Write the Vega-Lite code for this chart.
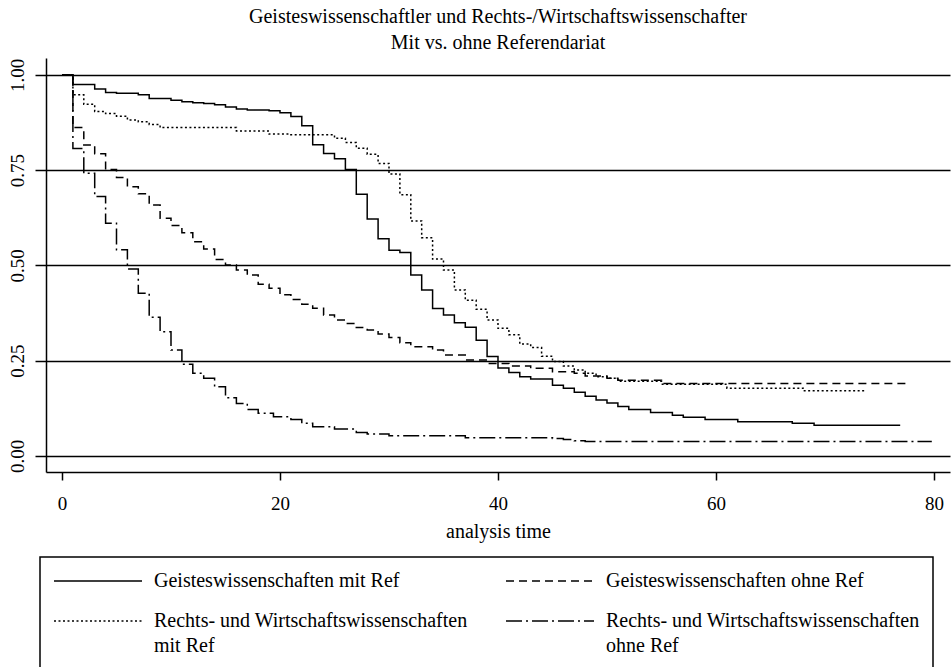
{
  "$schema": "https://vega.github.io/schema/vega-lite/v6.json",
  "width": 904,
  "height": 414,
  "autosize": {"type": "none"},
  "padding": {"left": 46, "top": 58, "right": 2, "bottom": 195},
  "background": "white",
  "title": {
    "text": ["Geisteswissenschaftler und Rechts-/Wirtschaftswissenschafter", "Mit vs. ohne Referendariat"],
    "font": "'Liberation Serif', 'Times New Roman', Times, 'DejaVu Serif', serif",
    "fontSize": 20,
    "fontWeight": "normal",
    "lineHeight": 26,
    "anchor": "middle",
    "frame": "group",
    "offset": 5,
    "color": "black"
  },
  "config": {
    "view": {"stroke": null},
    "font": "'Liberation Serif', 'Times New Roman', Times, 'DejaVu Serif', serif",
    "legend": {
      "orient": "none",
      "legendX": -6,
      "legendY": 499,
      "columns": 2,
      "direction": "horizontal",
      "gridAlign": "each",
      "padding": 13,
      "strokeColor": "black",
      "symbolType": "M-1,0H7.8",
      "symbolSize": 400,
      "symbolStrokeWidth": 1.5,
      "symbolStrokeColor": "black",
      "symbolFillColor": "transparent",
      "labelFont": "'Liberation Serif', 'Times New Roman', Times, 'DejaVu Serif', serif",
      "labelFontSize": 20,
      "labelColor": "black",
      "labelOffset": 79,
      "labelLimit": 500,
      "columnPadding": 35,
      "rowPadding": 19
    }
  },
  "data": {
    "values": [
      {"g": "Geisteswissenschaften mit Ref", "t": 0, "s": 1},
      {"g": "Geisteswissenschaften mit Ref", "t": 1, "s": 0.975},
      {"g": "Geisteswissenschaften mit Ref", "t": 3, "s": 0.963},
      {"g": "Geisteswissenschaften mit Ref", "t": 4, "s": 0.954},
      {"g": "Geisteswissenschaften mit Ref", "t": 5, "s": 0.952},
      {"g": "Geisteswissenschaften mit Ref", "t": 7, "s": 0.948},
      {"g": "Geisteswissenschaften mit Ref", "t": 8, "s": 0.938},
      {"g": "Geisteswissenschaften mit Ref", "t": 10, "s": 0.934},
      {"g": "Geisteswissenschaften mit Ref", "t": 11, "s": 0.930},
      {"g": "Geisteswissenschaften mit Ref", "t": 12, "s": 0.927},
      {"g": "Geisteswissenschaften mit Ref", "t": 13, "s": 0.925},
      {"g": "Geisteswissenschaften mit Ref", "t": 14, "s": 0.922},
      {"g": "Geisteswissenschaften mit Ref", "t": 15, "s": 0.916},
      {"g": "Geisteswissenschaften mit Ref", "t": 16, "s": 0.911},
      {"g": "Geisteswissenschaften mit Ref", "t": 17, "s": 0.908},
      {"g": "Geisteswissenschaften mit Ref", "t": 19, "s": 0.906},
      {"g": "Geisteswissenschaften mit Ref", "t": 20, "s": 0.901},
      {"g": "Geisteswissenschaften mit Ref", "t": 21, "s": 0.891},
      {"g": "Geisteswissenschaften mit Ref", "t": 22, "s": 0.867},
      {"g": "Geisteswissenschaften mit Ref", "t": 23, "s": 0.817},
      {"g": "Geisteswissenschaften mit Ref", "t": 24, "s": 0.794},
      {"g": "Geisteswissenschaften mit Ref", "t": 25, "s": 0.780},
      {"g": "Geisteswissenschaften mit Ref", "t": 26, "s": 0.752},
      {"g": "Geisteswissenschaften mit Ref", "t": 27, "s": 0.687},
      {"g": "Geisteswissenschaften mit Ref", "t": 28, "s": 0.622},
      {"g": "Geisteswissenschaften mit Ref", "t": 29, "s": 0.570},
      {"g": "Geisteswissenschaften mit Ref", "t": 30, "s": 0.540},
      {"g": "Geisteswissenschaften mit Ref", "t": 31, "s": 0.534},
      {"g": "Geisteswissenschaften mit Ref", "t": 32, "s": 0.475},
      {"g": "Geisteswissenschaften mit Ref", "t": 33, "s": 0.436},
      {"g": "Geisteswissenschaften mit Ref", "t": 34, "s": 0.387},
      {"g": "Geisteswissenschaften mit Ref", "t": 35, "s": 0.370},
      {"g": "Geisteswissenschaften mit Ref", "t": 36, "s": 0.350},
      {"g": "Geisteswissenschaften mit Ref", "t": 37, "s": 0.338},
      {"g": "Geisteswissenschaften mit Ref", "t": 38, "s": 0.304},
      {"g": "Geisteswissenschaften mit Ref", "t": 39, "s": 0.261},
      {"g": "Geisteswissenschaften mit Ref", "t": 40, "s": 0.231},
      {"g": "Geisteswissenschaften mit Ref", "t": 41, "s": 0.219},
      {"g": "Geisteswissenschaften mit Ref", "t": 42, "s": 0.208},
      {"g": "Geisteswissenschaften mit Ref", "t": 43, "s": 0.202},
      {"g": "Geisteswissenschaften mit Ref", "t": 45, "s": 0.186},
      {"g": "Geisteswissenschaften mit Ref", "t": 46, "s": 0.178},
      {"g": "Geisteswissenschaften mit Ref", "t": 47, "s": 0.167},
      {"g": "Geisteswissenschaften mit Ref", "t": 48, "s": 0.157},
      {"g": "Geisteswissenschaften mit Ref", "t": 49, "s": 0.147},
      {"g": "Geisteswissenschaften mit Ref", "t": 50, "s": 0.139},
      {"g": "Geisteswissenschaften mit Ref", "t": 51, "s": 0.130},
      {"g": "Geisteswissenschaften mit Ref", "t": 52, "s": 0.122},
      {"g": "Geisteswissenschaften mit Ref", "t": 54, "s": 0.114},
      {"g": "Geisteswissenschaften mit Ref", "t": 56, "s": 0.107},
      {"g": "Geisteswissenschaften mit Ref", "t": 57, "s": 0.102},
      {"g": "Geisteswissenschaften mit Ref", "t": 59, "s": 0.096},
      {"g": "Geisteswissenschaften mit Ref", "t": 62, "s": 0.090},
      {"g": "Geisteswissenschaften mit Ref", "t": 67, "s": 0.086},
      {"g": "Geisteswissenschaften mit Ref", "t": 69, "s": 0.081},
      {"g": "Geisteswissenschaften mit Ref", "t": 76.9, "s": 0.081},

      {"g": "Geisteswissenschaften ohne Ref", "t": 0, "s": 1},
      {"g": "Geisteswissenschaften ohne Ref", "t": 1, "s": 0.862},
      {"g": "Geisteswissenschaften ohne Ref", "t": 2, "s": 0.816},
      {"g": "Geisteswissenschaften ohne Ref", "t": 3, "s": 0.793},
      {"g": "Geisteswissenschaften ohne Ref", "t": 4, "s": 0.752},
      {"g": "Geisteswissenschaften ohne Ref", "t": 5, "s": 0.731},
      {"g": "Geisteswissenschaften ohne Ref", "t": 6, "s": 0.707},
      {"g": "Geisteswissenschaften ohne Ref", "t": 7, "s": 0.688},
      {"g": "Geisteswissenschaften ohne Ref", "t": 8, "s": 0.659},
      {"g": "Geisteswissenschaften ohne Ref", "t": 9, "s": 0.624},
      {"g": "Geisteswissenschaften ohne Ref", "t": 10, "s": 0.605},
      {"g": "Geisteswissenschaften ohne Ref", "t": 11, "s": 0.586},
      {"g": "Geisteswissenschaften ohne Ref", "t": 12, "s": 0.562},
      {"g": "Geisteswissenschaften ohne Ref", "t": 13, "s": 0.543},
      {"g": "Geisteswissenschaften ohne Ref", "t": 14, "s": 0.516},
      {"g": "Geisteswissenschaften ohne Ref", "t": 15, "s": 0.501},
      {"g": "Geisteswissenschaften ohne Ref", "t": 16, "s": 0.488},
      {"g": "Geisteswissenschaften ohne Ref", "t": 17, "s": 0.475},
      {"g": "Geisteswissenschaften ohne Ref", "t": 18, "s": 0.451},
      {"g": "Geisteswissenschaften ohne Ref", "t": 19, "s": 0.440},
      {"g": "Geisteswissenschaften ohne Ref", "t": 20, "s": 0.423},
      {"g": "Geisteswissenschaften ohne Ref", "t": 21, "s": 0.411},
      {"g": "Geisteswissenschaften ohne Ref", "t": 22, "s": 0.398},
      {"g": "Geisteswissenschaften ohne Ref", "t": 23, "s": 0.388},
      {"g": "Geisteswissenschaften ohne Ref", "t": 24, "s": 0.370},
      {"g": "Geisteswissenschaften ohne Ref", "t": 25, "s": 0.357},
      {"g": "Geisteswissenschaften ohne Ref", "t": 26, "s": 0.348},
      {"g": "Geisteswissenschaften ohne Ref", "t": 27, "s": 0.337},
      {"g": "Geisteswissenschaften ohne Ref", "t": 28, "s": 0.331},
      {"g": "Geisteswissenschaften ohne Ref", "t": 29, "s": 0.320},
      {"g": "Geisteswissenschaften ohne Ref", "t": 30, "s": 0.311},
      {"g": "Geisteswissenschaften ohne Ref", "t": 31, "s": 0.297},
      {"g": "Geisteswissenschaften ohne Ref", "t": 32, "s": 0.287},
      {"g": "Geisteswissenschaften ohne Ref", "t": 34, "s": 0.278},
      {"g": "Geisteswissenschaften ohne Ref", "t": 35, "s": 0.265},
      {"g": "Geisteswissenschaften ohne Ref", "t": 37, "s": 0.252},
      {"g": "Geisteswissenschaften ohne Ref", "t": 39, "s": 0.243},
      {"g": "Geisteswissenschaften ohne Ref", "t": 41, "s": 0.236},
      {"g": "Geisteswissenschaften ohne Ref", "t": 43, "s": 0.230},
      {"g": "Geisteswissenschaften ohne Ref", "t": 45, "s": 0.221},
      {"g": "Geisteswissenschaften ohne Ref", "t": 47, "s": 0.217},
      {"g": "Geisteswissenschaften ohne Ref", "t": 48, "s": 0.210},
      {"g": "Geisteswissenschaften ohne Ref", "t": 50, "s": 0.204},
      {"g": "Geisteswissenschaften ohne Ref", "t": 51, "s": 0.199},
      {"g": "Geisteswissenschaften ohne Ref", "t": 55, "s": 0.190},
      {"g": "Geisteswissenschaften ohne Ref", "t": 77.6, "s": 0.190},

      {"g": "Rechts- und Wirtschaftswissenschaften mit Ref", "t": 0, "s": 1},
      {"g": "Rechts- und Wirtschaftswissenschaften mit Ref", "t": 1, "s": 0.948},
      {"g": "Rechts- und Wirtschaftswissenschaften mit Ref", "t": 2, "s": 0.923},
      {"g": "Rechts- und Wirtschaftswissenschaften mit Ref", "t": 3, "s": 0.904},
      {"g": "Rechts- und Wirtschaftswissenschaften mit Ref", "t": 4, "s": 0.899},
      {"g": "Rechts- und Wirtschaftswissenschaften mit Ref", "t": 5, "s": 0.892},
      {"g": "Rechts- und Wirtschaftswissenschaften mit Ref", "t": 6, "s": 0.882},
      {"g": "Rechts- und Wirtschaftswissenschaften mit Ref", "t": 7, "s": 0.877},
      {"g": "Rechts- und Wirtschaftswissenschaften mit Ref", "t": 8, "s": 0.870},
      {"g": "Rechts- und Wirtschaftswissenschaften mit Ref", "t": 9, "s": 0.862},
      {"g": "Rechts- und Wirtschaftswissenschaften mit Ref", "t": 16, "s": 0.853},
      {"g": "Rechts- und Wirtschaftswissenschaften mit Ref", "t": 19, "s": 0.845},
      {"g": "Rechts- und Wirtschaftswissenschaften mit Ref", "t": 21, "s": 0.843},
      {"g": "Rechts- und Wirtschaftswissenschaften mit Ref", "t": 25, "s": 0.834},
      {"g": "Rechts- und Wirtschaftswissenschaften mit Ref", "t": 26, "s": 0.823},
      {"g": "Rechts- und Wirtschaftswissenschaften mit Ref", "t": 27, "s": 0.808},
      {"g": "Rechts- und Wirtschaftswissenschaften mit Ref", "t": 28, "s": 0.792},
      {"g": "Rechts- und Wirtschaftswissenschaften mit Ref", "t": 29, "s": 0.768},
      {"g": "Rechts- und Wirtschaftswissenschaften mit Ref", "t": 30, "s": 0.740},
      {"g": "Rechts- und Wirtschaftswissenschaften mit Ref", "t": 31, "s": 0.686},
      {"g": "Rechts- und Wirtschaftswissenschaften mit Ref", "t": 32, "s": 0.617},
      {"g": "Rechts- und Wirtschaftswissenschaften mit Ref", "t": 33, "s": 0.573},
      {"g": "Rechts- und Wirtschaftswissenschaften mit Ref", "t": 34, "s": 0.517},
      {"g": "Rechts- und Wirtschaftswissenschaften mit Ref", "t": 35, "s": 0.488},
      {"g": "Rechts- und Wirtschaftswissenschaften mit Ref", "t": 36, "s": 0.436},
      {"g": "Rechts- und Wirtschaftswissenschaften mit Ref", "t": 37, "s": 0.409},
      {"g": "Rechts- und Wirtschaftswissenschaften mit Ref", "t": 38, "s": 0.385},
      {"g": "Rechts- und Wirtschaftswissenschaften mit Ref", "t": 39, "s": 0.357},
      {"g": "Rechts- und Wirtschaftswissenschaften mit Ref", "t": 40, "s": 0.335},
      {"g": "Rechts- und Wirtschaftswissenschaften mit Ref", "t": 41, "s": 0.318},
      {"g": "Rechts- und Wirtschaftswissenschaften mit Ref", "t": 42, "s": 0.294},
      {"g": "Rechts- und Wirtschaftswissenschaften mit Ref", "t": 43, "s": 0.285},
      {"g": "Rechts- und Wirtschaftswissenschaften mit Ref", "t": 44, "s": 0.262},
      {"g": "Rechts- und Wirtschaftswissenschaften mit Ref", "t": 45, "s": 0.248},
      {"g": "Rechts- und Wirtschaftswissenschaften mit Ref", "t": 46, "s": 0.236},
      {"g": "Rechts- und Wirtschaftswissenschaften mit Ref", "t": 47, "s": 0.226},
      {"g": "Rechts- und Wirtschaftswissenschaften mit Ref", "t": 48, "s": 0.217},
      {"g": "Rechts- und Wirtschaftswissenschaften mit Ref", "t": 49, "s": 0.208},
      {"g": "Rechts- und Wirtschaftswissenschaften mit Ref", "t": 50, "s": 0.204},
      {"g": "Rechts- und Wirtschaftswissenschaften mit Ref", "t": 51, "s": 0.196},
      {"g": "Rechts- und Wirtschaftswissenschaften mit Ref", "t": 55, "s": 0.188},
      {"g": "Rechts- und Wirtschaftswissenschaften mit Ref", "t": 61, "s": 0.178},
      {"g": "Rechts- und Wirtschaftswissenschaften mit Ref", "t": 68, "s": 0.171},
      {"g": "Rechts- und Wirtschaftswissenschaften mit Ref", "t": 73.7, "s": 0.171},

      {"g": "Rechts- und Wirtschaftswissenschaften ohne Ref", "t": 0, "s": 1},
      {"g": "Rechts- und Wirtschaftswissenschaften ohne Ref", "t": 1, "s": 0.807},
      {"g": "Rechts- und Wirtschaftswissenschaften ohne Ref", "t": 2, "s": 0.742},
      {"g": "Rechts- und Wirtschaftswissenschaften ohne Ref", "t": 3, "s": 0.681},
      {"g": "Rechts- und Wirtschaftswissenschaften ohne Ref", "t": 4, "s": 0.611},
      {"g": "Rechts- und Wirtschaftswissenschaften ohne Ref", "t": 5, "s": 0.541},
      {"g": "Rechts- und Wirtschaftswissenschaften ohne Ref", "t": 6, "s": 0.491},
      {"g": "Rechts- und Wirtschaftswissenschaften ohne Ref", "t": 7, "s": 0.427},
      {"g": "Rechts- und Wirtschaftswissenschaften ohne Ref", "t": 8, "s": 0.364},
      {"g": "Rechts- und Wirtschaftswissenschaften ohne Ref", "t": 9, "s": 0.326},
      {"g": "Rechts- und Wirtschaftswissenschaften ohne Ref", "t": 10, "s": 0.278},
      {"g": "Rechts- und Wirtschaftswissenschaften ohne Ref", "t": 11, "s": 0.241},
      {"g": "Rechts- und Wirtschaftswissenschaften ohne Ref", "t": 12, "s": 0.217},
      {"g": "Rechts- und Wirtschaftswissenschaften ohne Ref", "t": 13, "s": 0.204},
      {"g": "Rechts- und Wirtschaftswissenschaften ohne Ref", "t": 14, "s": 0.182},
      {"g": "Rechts- und Wirtschaftswissenschaften ohne Ref", "t": 15, "s": 0.153},
      {"g": "Rechts- und Wirtschaftswissenschaften ohne Ref", "t": 16, "s": 0.138},
      {"g": "Rechts- und Wirtschaftswissenschaften ohne Ref", "t": 17, "s": 0.122},
      {"g": "Rechts- und Wirtschaftswissenschaften ohne Ref", "t": 18, "s": 0.112},
      {"g": "Rechts- und Wirtschaftswissenschaften ohne Ref", "t": 19.4, "s": 0.103},
      {"g": "Rechts- und Wirtschaftswissenschaften ohne Ref", "t": 21, "s": 0.096},
      {"g": "Rechts- und Wirtschaftswissenschaften ohne Ref", "t": 22, "s": 0.086},
      {"g": "Rechts- und Wirtschaftswissenschaften ohne Ref", "t": 23, "s": 0.077},
      {"g": "Rechts- und Wirtschaftswissenschaften ohne Ref", "t": 25, "s": 0.071},
      {"g": "Rechts- und Wirtschaftswissenschaften ohne Ref", "t": 27, "s": 0.062},
      {"g": "Rechts- und Wirtschaftswissenschaften ohne Ref", "t": 28, "s": 0.058},
      {"g": "Rechts- und Wirtschaftswissenschaften ohne Ref", "t": 30, "s": 0.053},
      {"g": "Rechts- und Wirtschaftswissenschaften ohne Ref", "t": 37, "s": 0.048},
      {"g": "Rechts- und Wirtschaftswissenschaften ohne Ref", "t": 45, "s": 0.046},
      {"g": "Rechts- und Wirtschaftswissenschaften ohne Ref", "t": 46, "s": 0.043},
      {"g": "Rechts- und Wirtschaftswissenschaften ohne Ref", "t": 47, "s": 0.040},
      {"g": "Rechts- und Wirtschaftswissenschaften ohne Ref", "t": 48, "s": 0.038},
      {"g": "Rechts- und Wirtschaftswissenschaften ohne Ref", "t": 79.8, "s": 0.038}
    ]
  },
  "mark": {"type": "line", "interpolate": "step-after", "strokeWidth": 1.5, "color": "black"},
  "encoding": {
    "x": {
      "field": "t",
      "type": "quantitative",
      "scale": {"domain": [-1.468, 81.47], "nice": false, "zero": false},
      "axis": {
        "values": [0, 20, 40, 60, 80],
        "title": "analysis time",
        "grid": false,
        "domainColor": "black",
        "domainWidth": 1.5,
        "tickColor": "black",
        "tickSize": 8,
        "tickWidth": 1.5,
        "labelFont": "'Liberation Serif', 'Times New Roman', Times, 'DejaVu Serif', serif",
        "labelFontSize": 19,
        "labelColor": "black",
        "labelPadding": 14,
        "titleFont": "'Liberation Serif', 'Times New Roman', Times, 'DejaVu Serif', serif",
        "titleFontSize": 20,
        "titleFontWeight": "normal",
        "titleColor": "black",
        "titlePadding": 8
      }
    },
    "y": {
      "field": "s",
      "type": "quantitative",
      "scale": {"domain": [-0.042, 1.0446], "nice": false, "zero": false},
      "axis": {
        "values": [0, 0.25, 0.5, 0.75, 1],
        "format": ".2f",
        "title": null,
        "grid": true,
        "gridColor": "black",
        "gridWidth": 1.5,
        "gridOpacity": 1,
        "domainColor": "black",
        "domainWidth": 1.5,
        "tickColor": "black",
        "tickSize": 11,
        "tickWidth": 1.5,
        "labelFont": "'Liberation Serif', 'Times New Roman', Times, 'DejaVu Serif', serif",
        "labelFontSize": 19,
        "labelColor": "black",
        "labelAngle": 270,
        "labelAlign": "center",
        "labelBaseline": "bottom",
        "labelPadding": 8
      }
    },
    "strokeDash": {
      "field": "g",
      "type": "nominal",
      "scale": {
        "domain": [
          "Geisteswissenschaften mit Ref",
          "Geisteswissenschaften ohne Ref",
          "Rechts- und Wirtschaftswissenschaften mit Ref",
          "Rechts- und Wirtschaftswissenschaften ohne Ref"
        ],
        "range": [[1, 0], [8, 5], [2, 2.5], [16, 4, 2, 4]]
      },
      "legend": {
        "title": null,
        "labelExpr": "indexof(datum.label, 'Rechts') == 0 ? [slice(datum.label, 0, 37), slice(datum.label, 38)] : datum.label",
        "labelBaseline": "alphabetic",
        "encode": {
          "labels": {"update": {"lineHeight": {"value": 25}, "dy": {"value": 6}}},
          "legend": {"update": {"strokeWidth": {"value": 1.5}}}
        }
      }
    }
  }
}
